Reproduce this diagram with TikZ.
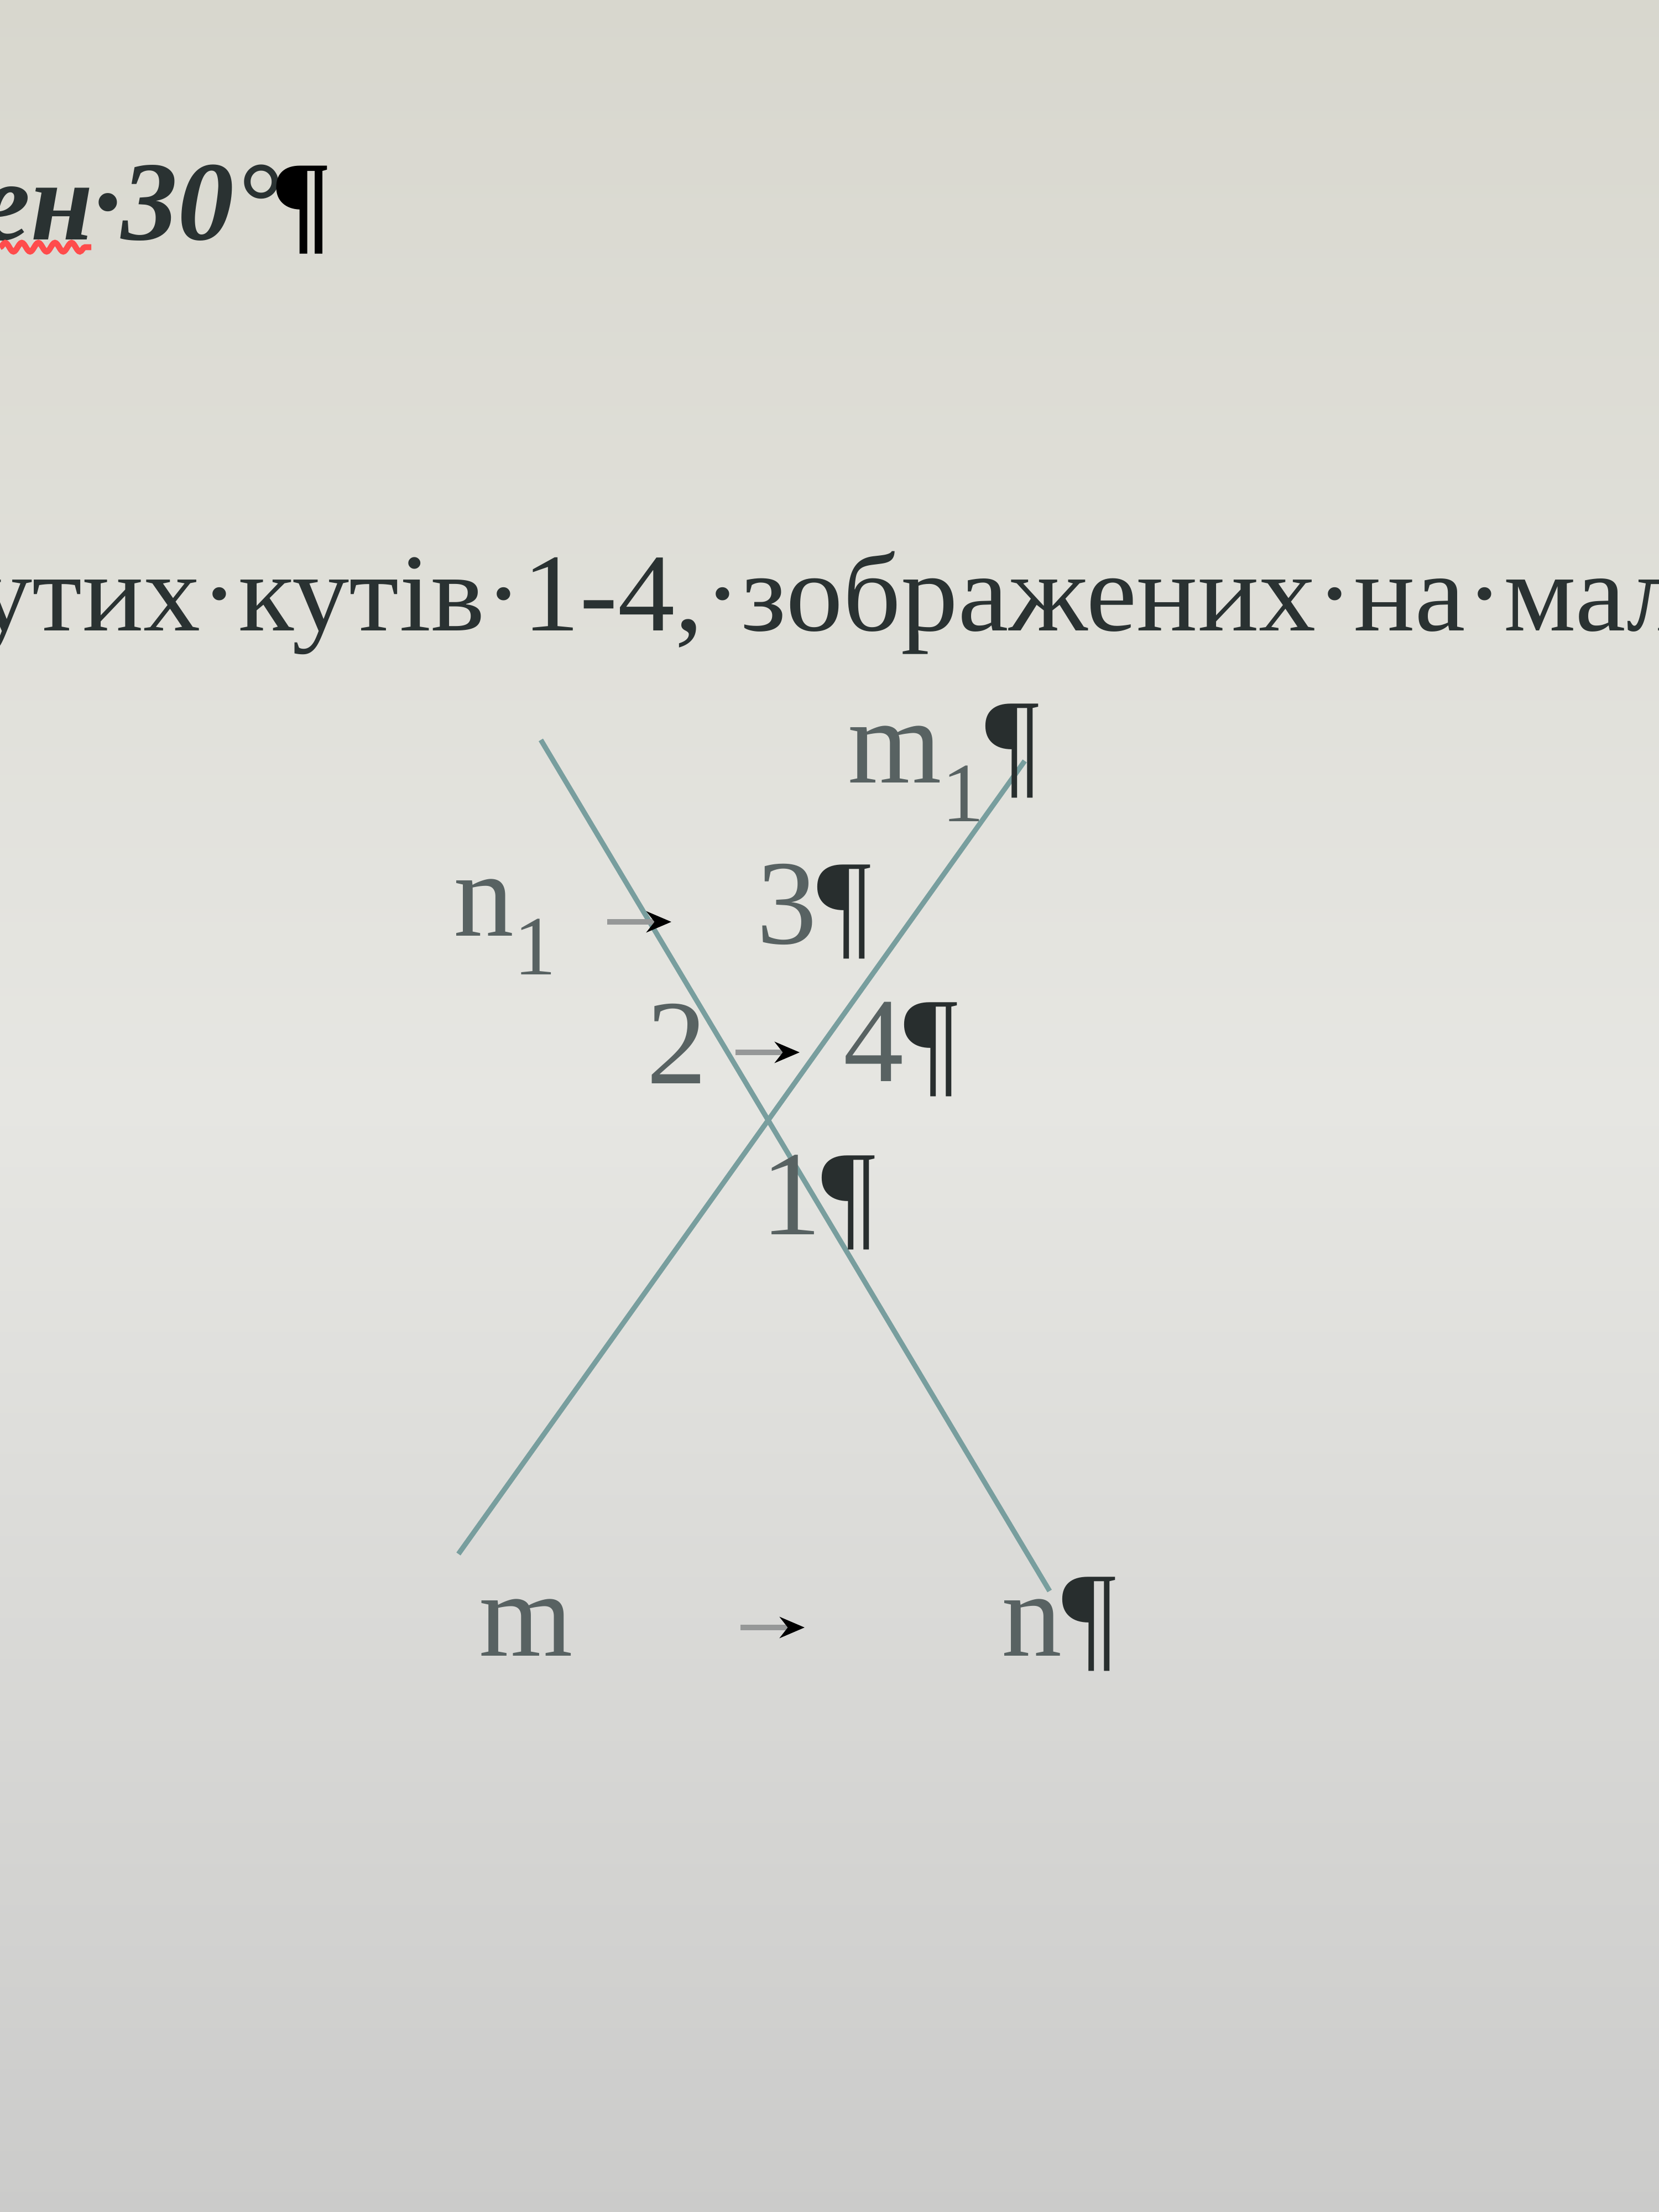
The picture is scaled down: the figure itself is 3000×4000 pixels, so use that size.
\documentclass[tikz,border=0pt]{standalone}
\usepackage{fontspec}
\setmainfont{Liberation Serif}
\usetikzlibrary{arrows.meta,decorations.pathmorphing}
\definecolor{papertop}{RGB}{216,215,206}
\definecolor{papermid}{RGB}{230,230,226}
\definecolor{paperbot}{RGB}{203,203,202}
\definecolor{inkcol}{RGB}{42,50,50}
\definecolor{lblcol}{RGB}{88,98,98}
\definecolor{pilcol}{RGB}{40,46,46}
\definecolor{raycol}{RGB}{120,158,158}
\definecolor{tabcol}{RGB}{150,152,152}

\begin{document}
\begin{tikzpicture}[x=0.1mm,y=-0.1mm,
  ray/.style={draw=raycol, line width=2.6pt},
  lbl/.style={anchor=base west, inner sep=0, text=lblcol, font=\fontsize{62}{62}\selectfont},
  tabmark/.style={draw=tabcol, line width=2.6pt, -{Stealth[length=4.5mm,width=3.8mm,color=black]}}]
  \useasboundingbox (0,0) rectangle (3000,4000);
  \clip (0,0) rectangle (3000,4000);
  \shade[top color=papertop, bottom color=paperbot, middle color=papermid] (0,0) rectangle (3000,4000);

  % heading and task line
  \node[anchor=base west, inner sep=0, text=inkcol, font=\fontsize{58}{58}\selectfont\bfseries\itshape] (head) at (-36,433) {ен·30°\kern-0.04em\textcolor{black}{¶}};
  \draw[red!70!white, line width=3pt, decorate, decoration={snake, amplitude=0.8mm, segment length=3mm}] (0,447) -- (165,447);
  \node[anchor=base west, inner sep=0, xscale=1.03, text=inkcol, font=\fontsize{57}{57}\selectfont] (task) at (-45,1140) {утих·кутів·1-4,·зображених·на·мал};

  % the two crossing lines
  \coordinate (nTop) at (978,1338);
  \coordinate (nBot) at (1898,2877);
  \coordinate (mBot) at (829,2810);
  \coordinate (mTop) at (1853,1376);
  \draw[ray] (nTop) -- (nBot);
  \draw[ray] (mBot) -- (mTop);

  % labels
  \node[lbl] (m1) at (1533,1415) {m\textsubscript{1}\textcolor{pilcol}{¶}};
  \node[lbl] (n1) at (820,1692) {n\textsubscript{1}};
  \node[lbl] (a3) at (1368,1706) {3\textcolor{pilcol}{¶}};
  \node[lbl] (a2) at (1169,1959) {2};
  \node[lbl] (a4) at (1525,1955) {4\textcolor{pilcol}{¶}};
  \node[lbl] (a1) at (1376,2232) {1\textcolor{pilcol}{¶}};
  \node[lbl] (m) at (866,2994) {m};
  \node[lbl] (n) at (1811,2994) {n\textcolor{pilcol}{¶}};

  % tab marks
  \foreach \i/\x/\y in {1/1098/1667, 2/1330/1903, 3/1339/2943} {
    \coordinate (tab\i) at (\x,\y);
    \draw[tabmark] (tab\i) -- ++(116,0);
  }
\end{tikzpicture}
\end{document}
